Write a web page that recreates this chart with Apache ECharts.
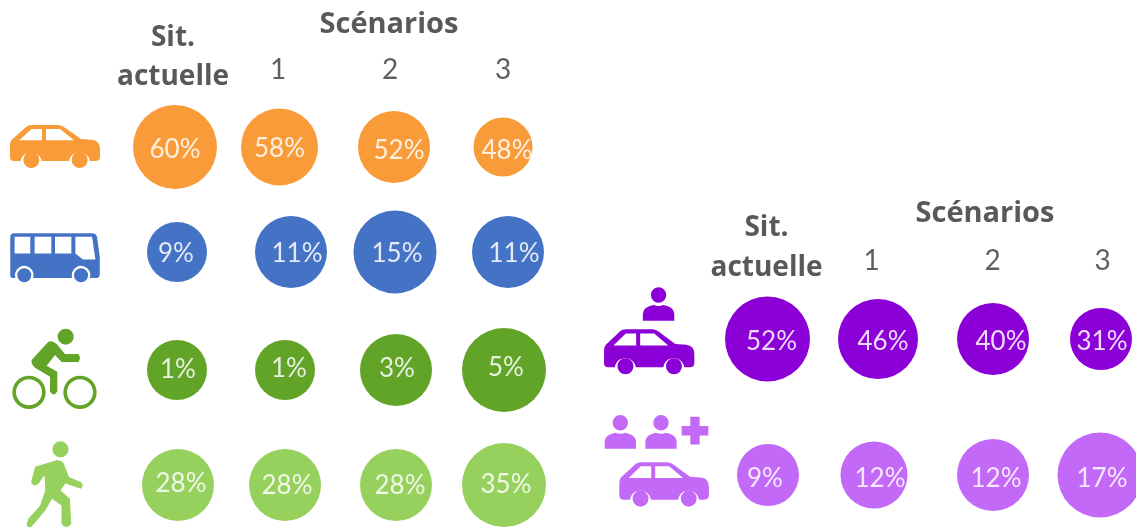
<!DOCTYPE html>
<html><head><meta charset="utf-8">
<style>html,body{margin:0;padding:0;background:#fff}#c{width:1136px;height:528px}</style>
<script src="https://cdn.jsdelivr.net/npm/echarts@6/dist/echarts.min.js"></script>
</head><body><div id="c"></div>
<script>
// ---- data
const columns = ['', 'Sit. actuelle', '1', '2', '3'];
const modesLeft = ['Voiture', 'Bus', 'Vélo', 'Marche'];
const modesRight = ['Conducteur seul', 'Covoiturage'];
const voiture = [60, 58, 52, 48];
const bus = [9, 11, 15, 11];
const velo = [1, 1, 3, 5];
const marche = [28, 28, 28, 35];
const conducteur = [52, 46, 40, 31];
const covoiturage = [9, 12, 12, 17];
const voitureBubble = [84, 77, 72, 59];
const busBubble = [60, 72, 83, 72];
const veloBubble = [60, 60, 72, 84];
const marcheBubble = [72, 72, 72, 84];
const conducteurBubble = [85, 80, 72, 62];
const covoiturageBubble = [62, 67, 72, 85];

// ---- small layout nudges (px) relative to the band centres
const cellDx = [[-2,-7.5,-3,-4],[0,4,-2,1],[0,-2,-1,-3],[1,-2,-1,-3],[0,-0.5,3.5,0.5],[0.5,-4.5,3.5,-0.5]];
const rowDy = [0.5,-7.5,-2.5,-0.5,0,0];
const labelDx = [[0,0,5,4],[-1,6,2,6],[1,4,1,2],[3,2,4,2],[4,5,8,1],[-3,6,3,2]];
const labelDy = [[3,2,4,4],[2,2,2,2],[0,-1,-1,-2],[-1,1,1,0],[3,3,3,3],[4,4,4,4]];
const colors = ['#F99B38','#4472C4','#62A427','#96D15D','#8A00D6','#C369F7'];
const FONT = 'Lato';
const HEAD = '"Open Sans"';

// ---- icon outlines
function circ(cx,cy,r,cw){const s=cw?1:0;return `M${cx-r},${cy}A${r},${r} 0 1 ${s} ${cx+r},${cy}A${r},${r} 0 1 ${s} ${cx-r},${cy}Z`;}
function car(ox,oy,sx,sy){
  const X=x=>+(ox+x*sx).toFixed(2),Y=y=>+(oy+y*sy).toFixed(2),P=(x,y)=>X(x)+','+Y(y);
  const a=32*sx,b=32*sy;
  return `M${P(0,60)}Q${P(0,45)} ${P(12,38)}L${P(48,6)}Q${P(55,0)} ${P(65,0)}L${P(145,0)}Q${P(155,0)} ${P(165,8)}L${P(213,42)}L${P(245,44)}Q${P(270,46)} ${P(270,72)}L${P(270,95)}Q${P(270,108)} ${P(256,108)}L${P(240,108)}A${a},${b} 0 0 0 ${P(177,108)}L${P(95,108)}A${a},${b} 0 0 0 ${P(32,108)}L${P(12,108)}Q${P(0,108)} ${P(0,95)}Z`
  +`M${P(28,46)}L${P(96,46)}L${P(96,12)}L${P(65,12)}Z`
  +`M${P(108,46)}L${P(192,46)}L${P(150,12)}L${P(108,12)}Z`
  +circ(X(64),Y(105),24*sx,true)+circ(X(209),Y(105),24*sx,true);
}
function person(ox,oy){
  return circ(ox+47,oy-30,23,true)+`M${ox},${oy+47}L${ox},${oy+25}Q${ox+2},${oy+5} ${ox+32},${oy}Q${ox+47},${oy+5} ${ox+62},${oy}Q${ox+92},${oy+5} ${ox+94},${oy+25}L${ox+94},${oy+47}Z`;
}
const iconCar = car(0,0,1,1);
const iconBus = 'M0,12Q0,0 12,0L245,0Q258,0 260,12L268,70L268,122Q268,133 258,133L238.8,133A28,28 0 1 0 185.2,133L68.8,133A28,28 0 1 0 15.2,133L8,133Q0,133 0,125Z'
  +'M13,60L60,60L60,10L13,10ZM73,60L123,60L123,10L73,10ZM134,60L183,60L183,10L134,10ZM195,60L218,78L255,78L245,10L195,10Z'
  +circ(42,125,21,true)+circ(212,125,21,true);
const iconBike = circ(87,577,50,true)+circ(87,577,39,false)+circ(240,577,50,true)+circ(240,577,39,false)+circ(197,410,24,true)
  +'M95,480L145,425Q158,420 170,432L195,462L235,462Q245,474 235,486L185,486L165,465L140,497L172,515L172,575Q161,592 150,575L150,530L105,503Q92,492 95,480Z';
const iconWalk = circ(180,748,24,true)
  +'M105,800L170,780Q185,782 190,790L205,830L240,845Q252,855 240,865L195,850L180,870L208,895L212,970Q197,990 183,970L183,915L155,895L135,930L95,978Q80,985 80,970L85,955L120,915L135,870L133,825L115,850Q100,862 93,845Z';
const iconSolo = car(42,147,1,1.05)+person(158,75);
const iconDuo = person(44,458)+person(166,458)+'M301,410L329,410L329,438L355,438L355,466L329,466L329,493L301,493L301,466L275,466L275,438L301,438Z'+car(88,545,0.996,1.03);

const iconsLeft = [[iconCar,[90,43],[-12,0.0]],[iconBus,[89.5,49],[-12,-1.7]],[iconBike,[84.3,80.3],[-12.5,-3.7]],[iconWalk,[56,86],[-12.3,-1.2]]];
const iconsRight = [[iconSolo,[90.3,87],[-7.3,-8.2]],[iconDuo,[104.3,91.7],[0.3,-14.2]]];

function headerLabel(gaps){
  const num=(i)=>({fontFamily:FONT,fontSize:28,lineHeight:32,color:'#5f5f5f',padding:[0,gaps.n[i],0,gaps.nl[i]]});
  return {
    show:true, interval:0, margin:gaps.margin, color:'#595959', fontFamily:FONT,
    formatter:(v)=>{
      if(v==='') return '';
      if(v==='Sit. actuelle') return '{b|Sit.}\n{b|actuelle}';
      return '{n'+v+'|'+v+'}\n{g|}';
    },
    rich:{
      b:{fontFamily:HEAD,fontWeight:'bold',fontSize:28,lineHeight:gaps.lh,color:'#595959',padding:[0,gaps.sit,0,0]},
      n1:num(0),n2:num(1),n3:num(2),
      g:{fontSize:5,lineHeight:gaps.g,height:gaps.g}
    }
  };
}
const hiddenLine={show:false};
const grid=[
 {left:12,top:90,width:550,height:452,outerBoundsMode:'none',containLabel:false},
 {left:601,top:271,width:555,height:272,outerBoundsMode:'none',containLabel:false}
];
const xAxis=[
 {type:'category',gridIndex:0,position:'top',data:columns,axisLine:hiddenLine,axisTick:hiddenLine,axisLabel:headerLabel({margin:-7,sit:8,n:[18,14,8],nl:[0,0,0],g:11,lh:39})},
 {type:'category',gridIndex:1,position:'top',data:columns,axisLine:hiddenLine,axisTick:hiddenLine,axisLabel:headerLabel({margin:-17,sit:2,n:[14,0,0],nl:[0,6,4],g:11,lh:40})}
];
const yAxis=[
 {type:'category',gridIndex:0,inverse:true,data:modesLeft,axisLine:hiddenLine,axisTick:hiddenLine,axisLabel:hiddenLine},
 {type:'category',gridIndex:1,inverse:true,data:modesRight,axisLine:hiddenLine,axisTick:hiddenLine,axisLabel:hiddenLine}
];
function bubbleSeries(name,values,sizes,row,idx,axis){
  return {
    name,type:'scatter',xAxisIndex:axis,yAxisIndex:axis,clip:false,silent:true,animation:false,z:3,
    itemStyle:{color:colors[idx],opacity:1},
    data:values.map((v,i)=>({
      value:[i+1,row,v],
      symbol:'circle',symbolSize:sizes[i],
      symbolOffset:[cellDx[idx][i],rowDy[idx]],
      label:{show:true,position:'inside',formatter:v+'%',fontFamily:FONT,fontSize:26,color:'rgba(255,255,255,0.85)',offset:[labelDx[idx][i],labelDy[idx][i]]}
    }))
  };
}
function iconSeries(icons,idx0,axis){
  return {
    name:'icons'+axis,type:'scatter',xAxisIndex:axis,yAxisIndex:axis,clip:false,silent:true,animation:false,
    data:icons.map((ic,r)=>({
      value:[0,r],symbol:'path://'+ic[0],symbolSize:ic[1],symbolOffset:ic[2],
      itemStyle:{color:colors[idx0+r],opacity:1}
    }))
  };
}
const option={
  backgroundColor:'#fff',animation:false,
  title:[
    {text:'Scénarios',left:384,top:5,textAlign:'center',textStyle:{fontFamily:HEAD,fontWeight:'bold',fontSize:29,color:'#595959'}},
    {text:'Scénarios',left:980,top:194,textAlign:'center',textStyle:{fontFamily:HEAD,fontWeight:'bold',fontSize:29,color:'#595959'}}
  ],
  grid,xAxis,yAxis,
  series:[
    bubbleSeries('Voiture',voiture,voitureBubble,0,0,0),
    bubbleSeries('Bus',bus,busBubble,1,1,0),
    bubbleSeries('Vélo',velo,veloBubble,2,2,0),
    bubbleSeries('Marche',marche,marcheBubble,3,3,0),
    bubbleSeries('Conducteur seul',conducteur,conducteurBubble,0,4,1),
    bubbleSeries('Covoiturage',covoiturage,covoiturageBubble,1,5,1),
    iconSeries(iconsLeft,0,0),
    iconSeries(iconsRight,4,1)
  ]
};
const chart=echarts.init(document.getElementById('c'),null,{renderer:'canvas'});
chart.setOption(option);
</script></body></html>
